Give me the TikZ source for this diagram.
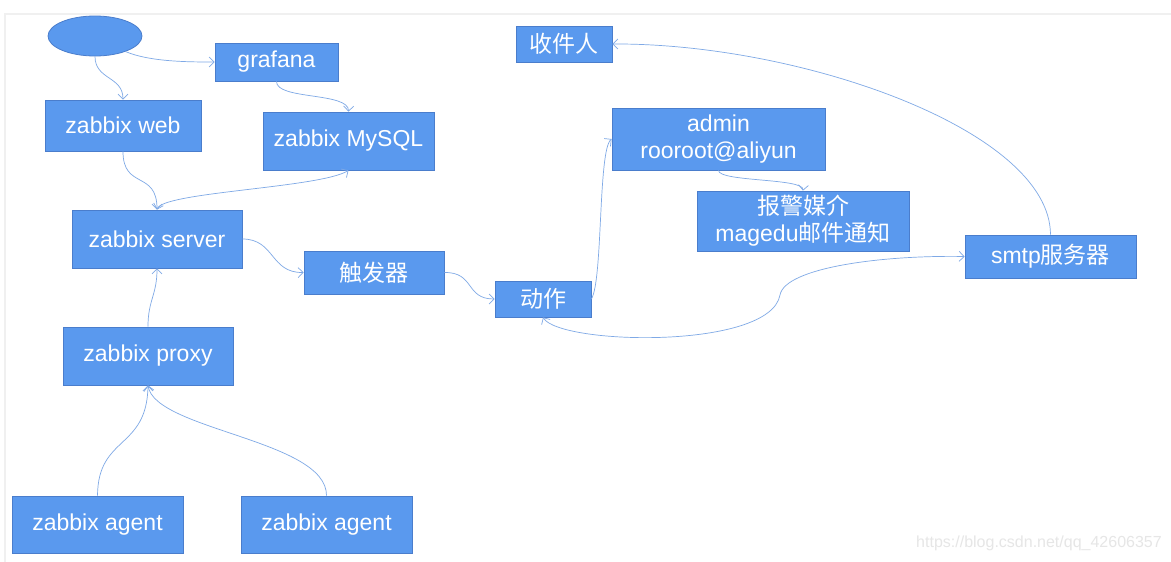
\documentclass[tikz,border=0pt]{standalone}
\usepackage{fontspec}
\setmainfont{Liberation Sans}
\newfontfamily\cjk{Noto Sans CJK SC}
\usetikzlibrary{arrows.meta,shapes.geometric}
\definecolor{boxfill}{HTML}{5A99EE}
\definecolor{boxline}{HTML}{4A7DCC}
\definecolor{linkblue}{HTML}{7FA9E6}
\definecolor{wm}{HTML}{E6E6E6}
\begin{document}
\begin{tikzpicture}[x=1pt,y=-1pt,
  box/.style={rectangle, fill=boxfill, draw=boxline, line width=0.8pt, text=white,
    font=\fontsize{23}{27}\selectfont, inner sep=0pt, align=center},
  tip/.style={Straight Barb[length=5pt,width=10pt]},
  conn/.style={draw=linkblue, line width=0.7pt, -{Straight Barb[length=5pt,width=10pt]}},
  both/.style={draw=linkblue, line width=0.7pt, {Straight Barb[length=5pt,width=10pt]}-{Straight Barb[length=5pt,width=10pt]}}]
\useasboundingbox (0,0) rectangle (1171,562);
\fill[white] (0,0) rectangle (1171,562);
\draw[black!6, line width=1.5pt] (5,562) -- (5,14) -- (1171,14);

\node[ellipse, fill=boxfill, draw=boxline, line width=0.8pt, minimum width=94pt, minimum height=40pt, inner sep=0pt] (ell) at (95,36) {};
\node[box, minimum width=123pt, minimum height=38pt] (grafana) at (276.5,62) {grafana};
\node[box, minimum width=96pt, minimum height=36pt] (recv) at (564,44) {\cjk 收件人};
\node[box, minimum width=156pt, minimum height=51pt] (web) at (123,125.5) {zabbix web};
\node[box, minimum width=171pt, minimum height=58pt] (mysql) at (348.5,141) {zabbix MySQL};
\node[box, minimum width=213pt, minimum height=62pt] (admin) at (718.5,139) {admin\\rooroot@aliyun};
\node[box, minimum width=212pt, minimum height=60pt] (alarm) at (803,221) {{\cjk 报警媒介}\\magedu{\cjk 邮件通知}};
\node[box, minimum width=170pt, minimum height=58pt] (server) at (157,239) {zabbix server};
\node[box, minimum width=140pt, minimum height=43pt] (trigger) at (374,272.5) {\cjk 触发器};
\node[box, minimum width=96pt, minimum height=36pt] (action) at (543,299) {\cjk 动作};
\node[box, minimum width=171pt, minimum height=43pt] (smtp) at (1050.5,256.5) {smtp{\cjk 服务器}};
\node[box, minimum width=170pt, minimum height=58pt] (proxy) at (148,356) {zabbix proxy};
\node[box, minimum width=171pt, minimum height=57pt] (agenta) at (97.5,524.5) {zabbix agent};
\node[box, minimum width=171pt, minimum height=57pt] (agentb) at (326.5,524.5) {zabbix agent};

\node[text=wm, font=\fontsize{16}{18}\selectfont, inner sep=0pt] (mark) at (1039,543) {https://blog.csdn.net/qq\_42606357};

\draw[conn] (ell.south) .. controls (95,80) and (123,76) .. (web.north);
\draw[conn] (ell.-27) .. controls (150,62) and (190,62) .. (grafana.west);
\draw[conn] (grafana.south) .. controls (276,100) and (349,92) .. (mysql.north);
\draw[conn] (web.south) .. controls (123,190) and (157,170) .. (server.north);
\draw[both] (server.north) .. controls (162,192) and (320,188) .. (mysql.south);
\draw[conn] (server.east) .. controls (275,239) and (270,273) .. (trigger.west);
\draw[conn] (trigger.east) .. controls (475,272) and (465,299) .. (action.west);
\draw[conn] (action.east) .. controls (603,280) and (598,150) .. (admin.west);
\draw[conn] (admin.south) .. controls (719,182) and (804,178) .. (alarm.north);
\draw[conn] (smtp.north) .. controls (1050,130) and (800,43) .. (recv.east);
\draw[both] (action.south) .. controls (560,345) and (770,350) .. (780,295) .. controls (785,268) and (880,255) .. (smtp.west);
\draw[conn] (proxy.north) .. controls (148,300) and (157,295) .. (server.south);
\draw[conn] (agenta.north) .. controls (98,435) and (147,450) .. (proxy.south);
\draw[conn] (agentb.north) .. controls (327,440) and (155,430) .. (proxy.south);
\end{tikzpicture}
\end{document}
